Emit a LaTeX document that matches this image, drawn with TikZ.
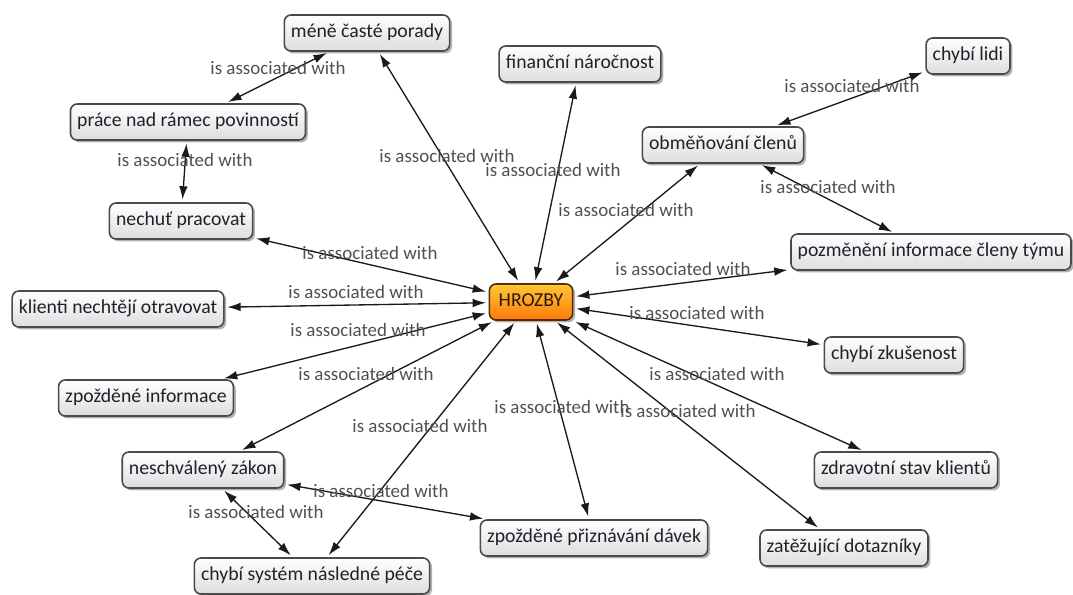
\documentclass[tikz,border=0pt]{standalone}
\usepackage{fontspec}
\setmainfont{Carlito}
\usetikzlibrary{arrows.meta,shadows}

\definecolor{boxline}{HTML}{4A4A4A}
\definecolor{boxtext}{HTML}{231F2C}
\definecolor{linktext}{HTML}{505050}
\definecolor{edge}{HTML}{1A1A1A}

\tikzset{
  concept/.style={draw=boxline, line width=1.2pt, rounded corners=5pt,
    top color=white, bottom color=black!13, text=boxtext,
    font=\fontsize{14.8}{16}\selectfont, inner xsep=5pt,
    minimum height=27pt, text height=10pt, text depth=3pt,
    drop shadow={shadow xshift=1.8pt, shadow yshift=-1.8pt, fill=black!55, opacity=.55}},
  central/.style={concept, draw=black!65!orange, top color=orange!55!yellow!80,
    bottom color=orange!90!red!95, text=black!80!brown, inner xsep=7pt},
  linklabel/.style={text=linktext, font=\fontsize{14.2}{16}\selectfont, inner sep=0pt},
  assoc/.style={draw=edge, line width=1pt,
    {Latex[length=10pt,width=6.5pt]}-{Latex[length=10pt,width=6.5pt]},
    shorten >=2pt, shorten <=2pt}
}

\begin{document}
\begin{tikzpicture}[x=0.75pt,y=-0.75pt]
\useasboundingbox (0,0) rectangle (1073,595);

% concepts
\node[central] (hr) at (531,302) {HROZBY};
\node[concept] (mene) at (367,33) {méně časté porady};
\node[concept] (fin) at (580,64) {finanční náročnost};
\node[concept] (lidi) at (968,56) {chybí lidi};
\node[concept] (prace) at (188,122) {práce nad rámec povinností};
\node[concept] (obm) at (723,145) {obměňování členů};
\node[concept] (nechut) at (181,221) {nechuť pracovat};
\node[concept] (pozm) at (931,252) {pozměnění informace členy týmu};
\node[concept] (klienti) at (118,309) {klienti nechtějí otravovat};
\node[concept] (zkus) at (894,355) {chybí zkušenost};
\node[concept] (zpinf) at (146,398) {zpožděné informace};
\node[concept] (zakon) at (203,470) {neschválený zákon};
\node[concept] (zdrav) at (906,470) {zdravotní stav klientů};
\node[concept] (davky) at (594,538) {zpožděné přiznávání dávek};
\node[concept] (dotaz) at (844,548) {zatěžující dotazníky};
\node[concept] (pece) at (312,576) {chybí systém následné péče};

% links
\draw[assoc] (hr) -- (mene);
\draw[assoc] (hr) -- (fin);
\draw[assoc] (hr) -- (obm);
\draw[assoc] (hr) -- (pozm);
\draw[assoc] (hr) -- (zkus);
\draw[assoc] (hr) -- (zdrav);
\draw[assoc] (hr) -- (dotaz);
\draw[assoc] (hr) -- (davky);
\draw[assoc] (hr) -- (pece);
\draw[assoc] (hr) -- (zakon);
\draw[assoc] (hr) -- (zpinf);
\draw[assoc] (hr) -- (klienti);
\draw[assoc] (hr) -- (nechut);
\draw[assoc] (mene) -- (prace);
\draw[assoc] (prace) -- (nechut);
\draw[assoc] (obm) -- (lidi);
\draw[assoc] (obm) -- (pozm);
\draw[assoc] (zakon) -- (pece);
\draw[assoc] (zakon) -- (davky);

% link labels
\node[linklabel] (l1) at (447,156) {is associated with};
\node[linklabel] (l2) at (553,170) {is associated with};
\node[linklabel] (l3) at (626,210) {is associated with};
\node[linklabel] (l4) at (683,269) {is associated with};
\node[linklabel] (l5) at (697,313) {is associated with};
\node[linklabel] (l6) at (717,374) {is associated with};
\node[linklabel] (l7) at (688,411) {is associated with};
\node[linklabel] (l8) at (562,407) {is associated with};
\node[linklabel] (l9) at (420,426) {is associated with};
\node[linklabel] (l10) at (366,374) {is associated with};
\node[linklabel] (l11) at (358,330) {is associated with};
\node[linklabel] (l12) at (356,292) {is associated with};
\node[linklabel] (l13) at (370,253) {is associated with};
\node[linklabel] (l14) at (278,68) {is associated with};
\node[linklabel] (l15) at (185,160) {is associated with};
\node[linklabel] (l16) at (852,86) {is associated with};
\node[linklabel] (l17) at (828,187) {is associated with};
\node[linklabel] (l18) at (256,512) {is associated with};
\node[linklabel] (l19) at (381,491) {is associated with};
\end{tikzpicture}
\end{document}
